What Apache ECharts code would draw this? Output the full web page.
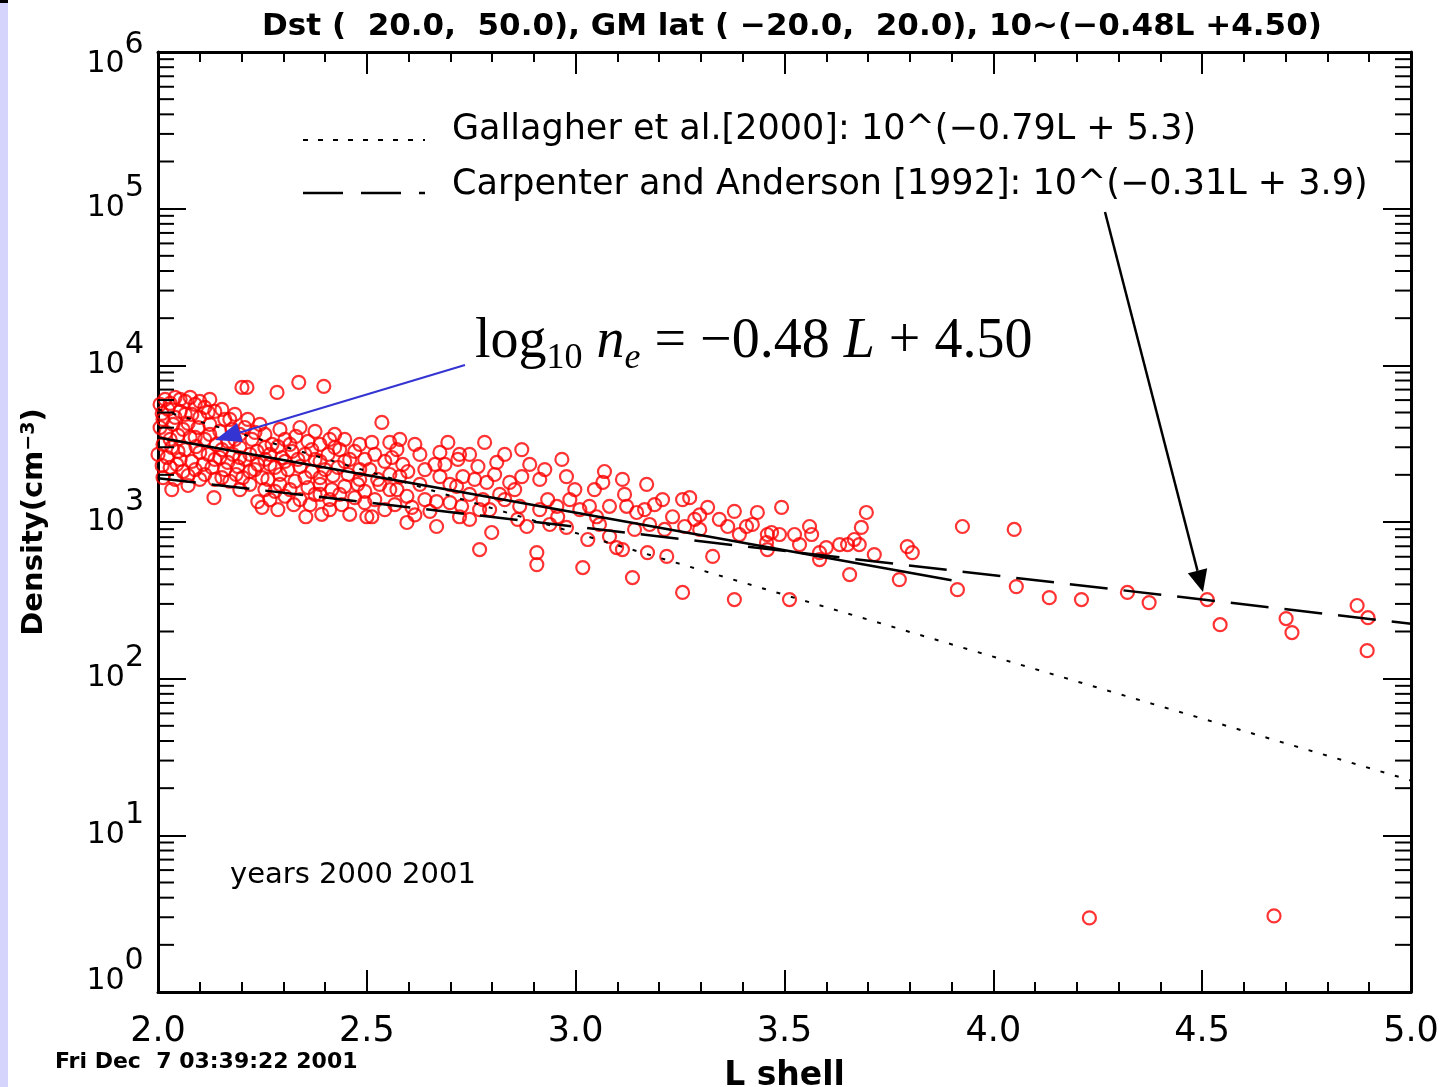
<!DOCTYPE html>
<html><head><meta charset="utf-8">
<script src="https://cdn.jsdelivr.net/npm/echarts@6/dist/echarts.min.js"></script>
<style>html,body{margin:0;padding:0;background:#fff;overflow:hidden}#chart{width:1443px;height:1087px}</style>
</head><body><div id="chart"></div>
<script>
const Lshell = [
 2.017,2.041,2.065,2.089,2.024,2.053,2.081,2.012,2.036,2.072,
 2.096,2.019,2.048,2.077,2.012,2.033,2.065,2.091,2.022,2.053,
 2.081,2.029,2.060,2.089,2.041,2.033,2.072,
 2.112,2.136,2.160,2.124,2.148,2.177,2.208,2.112,2.139,2.167,
 2.196,2.225,2.120,2.148,2.179,2.208,2.237,2.129,2.160,2.191,
 2.220,2.136,2.172,2.203,2.134,2.239,2.249,2.108,2.120,2.232,
 2.201,2.213,2.285,2.337,2.397,2.536,
 2.256,2.273,2.304,2.330,2.359,2.388,2.411,2.268,2.297,2.321,
 2.352,2.376,2.407,2.435,2.459,2.280,2.311,2.340,2.368,2.400,
 2.431,2.455,2.483,2.263,2.292,2.328,2.359,2.388,2.416,2.447,
 2.478,2.304,2.340,2.376,2.411,2.440,2.471,2.249,2.354,2.392,
 2.287,2.325,2.459,2.500,2.512,
 2.519,2.543,2.507,2.555,2.531,2.495,2.512,
 2.572,2.615,2.586,2.579,2.598,2.572,2.596,2.608,2.596,2.667,
 2.694,2.675,2.722,2.663,2.675,2.718,2.730,2.715,2.766,2.782,
 2.811,2.787,2.667,2.699,2.727,2.722,2.746,2.778,2.794,2.799,
 2.770,2.871,2.890,2.871,2.842,2.830,2.866,2.861,2.883,2.907,
 2.907,2.967,2.978,2.933,2.955,2.957,2.978,3.017,3.033,3.029,
 3.069,3.065,3.112,3.081,3.122,3.050,3.081,3.098,3.112,3.170,
 3.165,3.146,3.208,3.232,3.256,3.261,3.172,3.218,3.136,3.256,
 3.273,3.297,3.316,3.328,3.364,3.380,3.409,3.435,3.459,3.457,
 3.459,3.493,3.380,3.469,3.524,3.560,3.565,3.512,3.584,3.600,
 3.584,3.651,3.679,3.696,3.684,3.715,3.656,3.806,3.794,3.775,
 3.926,4.050,3.914,4.055,4.134,4.211,4.321,4.373,4.512,4.543,
 4.701,4.715,4.871,4.897,4.895,4.230,4.672,
 2.005,2.029,2.053,2.077,2.100,2.010,2.041,2.065,2.100,2.005,
 2.060,2.029,2.089,2.000,2.048,2.100,2.010,2.045,2.072,2.012,
 2.100,
 2.124,2.153,2.184,2.172,2.215,2.196,2.244,2.124,2.153,2.184,
 2.220,2.256,2.136,2.167,2.196,2.232,2.268,2.112,2.153,2.187,
 2.220,2.256,2.196,2.239,
 2.292,2.340,2.376,2.423,2.447,2.483,2.287,2.316,2.368,2.423,
 2.471,2.256,2.304,2.335,2.388,2.447,2.495,2.292,2.352,2.388,
 2.419,2.483,2.280,2.316,2.388,2.435,2.495,2.268,2.364,2.411,
 2.519,2.543,2.567,2.526,2.555,2.560,2.579,2.555,
 2.627,2.639,2.627,2.639,2.651,2.615,2.687,2.699,2.746,2.758,
 2.746,2.770,2.806,2.818,2.830,2.854,2.914,2.926,2.914,2.938,
 2.998,3.010,2.986,3.045,3.057,3.117,3.141,3.189,3.177,3.213,
 3.285,3.297,3.344,3.392,3.423,3.488,3.536,3.632,3.667
];
const density = [
 6060,6250,5890,5630,5230,5080,4860,4520,4200,4260,
 4010,3730,3570,3470,3130,2990,2900,3030,2580,2510,
 2440,2230,2100,2160,1870,1610,1710,
 5390,5080,4520,4200,3790,3900,4010,3370,3130,3270,
 2990,3370,2700,2580,2700,2510,2820,2230,2160,2260,
 2100,1870,1820,1920,1430,2330,1920,2330,5010,3730,
 7230,7230,6720,7790,7340,4320,
 3620,3130,3370,3520,3270,3130,3370,2700,2580,2820,
 2700,2510,2700,2900,2510,2230,2160,2260,2100,2160,
 2230,2010,2160,1870,1740,1820,1660,1740,1610,1690,
 1740,1460,1390,1500,1390,1290,1430,1240,1080,1120,
 1200,1290,1120,1080,1080,
 2700,2440,2160,2010,1740,1570,3220,
 2900,3130,2330,1950,2100,1610,1460,1240,993,936,
 3220,2780,2700,2330,1950,2510,1950,1690,2260,3220,
 2400,1790,1350,1330,1260,1080,1040,1390,1200,857,
 667,2900,2330,1950,1790,1390,1260,1040,936,638,
 535,2510,1950,1390,1260,1080,923,512,1260,773,
 2100,1790,1870,1260,1260,1080,808,687,667,1740,
 1200,1150,1390,1080,1390,936,638,603,442,355,
 1430,1110,1240,603,936,1170,936,1150,832,740,
 667,1240,320,857,832,936,832,320,638,687,
 576,718,718,1150,923,620,462,638,697,429,
 936,896,370,387,329,320,355,306,320,221,
 242,197,293,245,151,2.97,3.06,
 5630,5720,6060,6250,5890,4930,4650,4860,4650,4010,
 3900,3370,3470,2700,2820,2780,2290,2330,1980,1920,
 1870,
 6060,5230,4860,4520,4520,3620,4200,3620,2900,3370,
 2700,2990,2510,2400,2580,2160,2330,2010,1920,2010,
 1740,1610,1610,1350,
 3900,4010,3790,3620,3370,3130,3030,3130,2900,2990,
 2820,2510,2440,2510,2440,2440,2510,2010,1920,1920,
 1980,1870,1570,1610,1500,1500,1330,1390,1290,1200,
 1390,1200,1290,1870,1610,2580,3370,3220,
 2700,2160,1740,1390,1170,1110,2330,1740,2700,1870,
 1500,1200,2010,1500,2700,1610,1870,2160,1200,964,
 1610,1200,1390,1610,964,1500,896,1290,964,896,
 1040,896,1040,832,964,832,718,718,773
];
// Model lines (end points)
const gallagherL = [2.0, 5.0];
const gallagherN = [5248, 22.4];
const carpenterL = [2.0, 5.0];
const carpenterN = [1905, 224];
const fitL = [2.0, 3.9];
const fitN = [3467, 425];
// Axis ticks
const xTickLabels = ['2.0','2.5','3.0','3.5','4.0','4.5','5.0'];
const yTickExponents = ['0','1','2','3','4','5','6'];
const minorMantissas = [2,3,4,5,6,7,8,9];

const titleText = 'Dst (  20.0,  50.0), GM lat ( \u221220.0,  20.0), 10~(\u22120.48L +4.50)';
const legendTexts = ['Gallagher et al.[2000]: 10^(\u22120.79L + 5.3)', 'Carpenter and Anderson [1992]: 10^(\u22120.31L + 3.9)'];

const chart = echarts.init(document.getElementById('chart'));
const pts = Lshell.map((l, i) => [l, density[i]]);
const minorVals = [];
for (let e = 0; e < 6; e++) for (const m of minorMantissas) minorVals.push([2.0, m * Math.pow(10, e)]);

const FONT = 'DejaVu Sans';
const axisCommon = {
  axisLine: {show: true, onZero: false, lineStyle: {color: '#000', width: 3}},
  splitLine: {show: false}, minorSplitLine: {show: false}
};
function arrow(x1, y1, x2, y2, color, w, hl, hw) {
  const dx = x2 - x1, dy = y2 - y1, len = Math.hypot(dx, dy);
  const ux = dx / len, uy = dy / len, bx = x2 - ux * hl, by = y2 - uy * hl;
  return [
    {type: 'line', shape: {x1, y1, x2: bx, y2: by}, style: {stroke: color, lineWidth: w}, z: 20},
    {type: 'polygon', shape: {points: [[x2, y2], [bx - uy * hw / 2, by + ux * hw / 2], [bx + uy * hw / 2, by - ux * hw / 2]]}, style: {fill: color}, z: 20}
  ];
}
const lab = {fontFamily: FONT, fontSize: 30, color: '#000'};
function yLabel(v) {
  const e = yTickExponents[Math.round(Math.log10(v))];
  if (e === '6') return '{bt|10}{st|' + e + '}{zt| }';
  if (e === '0') return '{bb|10}{sb|' + e + '}{zb| }';
  return '{b|10}{s|' + e + '}';
}

const option = {
  animation: false,
  backgroundColor: '#fff',
  grid: {left: 158, right: 32, top: 52, bottom: 95, containLabel: false, outerBoundsMode: 'none'},
  xAxis: [
    Object.assign({}, axisCommon, {
      type: 'value', min: 2, max: 5, interval: 0.5, position: 'bottom',
      axisTick: {show: true, inside: true, length: 22, lineStyle: {color: '#000', width: 2}},
      minorTick: {show: true, splitNumber: 5, length: 10, lineStyle: {color: '#000', width: 2}},
      axisLabel: {color: '#000', fontFamily: FONT, fontSize: 35, margin: 22,
        formatter: v => xTickLabels[Math.round((v - 2) / 0.5)]},
      name: 'L shell', nameLocation: 'middle', nameGap: 68,
      nameTextStyle: {color: '#000', fontFamily: FONT, fontSize: 33, fontWeight: 'bold'}
    }),
    Object.assign({}, axisCommon, {
      type: 'value', min: 2, max: 5, interval: 0.5, position: 'top',
      axisTick: {show: true, inside: true, length: 22, lineStyle: {color: '#000', width: 2}},
      minorTick: {show: true, splitNumber: 5, length: 10, lineStyle: {color: '#000', width: 2}},
      axisLabel: {show: false}
    })
  ],
  yAxis: [
    Object.assign({}, axisCommon, {
      type: 'log', logBase: 10, min: 1, max: 1e6, interval: 1, position: 'left',
      axisTick: {show: true, inside: true, length: 28, lineStyle: {color: '#000', width: 2}},
      axisLabel: {color: '#000', fontFamily: FONT, margin: 14, formatter: yLabel,
        rich: {
          b: Object.assign({lineHeight: 70, verticalAlign: 'middle'}, lab),
          s: Object.assign({lineHeight: 30, verticalAlign: 'top'}, lab),
          bt: Object.assign({lineHeight: 30, padding: [19, 0, 0, 0], verticalAlign: 'top'}, lab),
          st: Object.assign({lineHeight: 30, verticalAlign: 'top'}, lab),
          zt: {fontSize: 1, lineHeight: 44, verticalAlign: 'middle'},
          bb: Object.assign({lineHeight: 30, padding: [20, 0, 0, 0], verticalAlign: 'top'}, lab),
          sb: Object.assign({lineHeight: 30, verticalAlign: 'top'}, lab),
          zb: {fontSize: 1, lineHeight: 92, verticalAlign: 'middle'}
        }},
      name: 'Density(cm{s|\u22123})', nameLocation: 'middle', nameGap: 109, nameRotate: 90,
      nameTextStyle: {color: '#000', fontFamily: FONT, fontSize: 29, fontWeight: 'bold',
        rich: {s: {fontFamily: FONT, fontSize: 19, fontWeight: 'bold', color: '#000', verticalAlign: 'top', lineHeight: 19, padding: [0, 0, 14, 0]}}}
    }),
    Object.assign({}, axisCommon, {
      type: 'log', logBase: 10, min: 1, max: 1e6, interval: 1, position: 'right',
      axisTick: {show: true, inside: true, length: 28, lineStyle: {color: '#000', width: 2}},
      axisLabel: {show: false}
    })
  ],
  series: [
    {
      type: 'scatter', xAxisIndex: 0, yAxisIndex: 0, data: pts,
      symbol: 'circle', symbolSize: 13,
      itemStyle: {color: 'rgba(0,0,0,0)', borderColor: '#ff0000', borderWidth: 2.2}, z: 3
    },
    {
      type: 'line', data: gallagherL.map((l, i) => [l, gallagherN[i]]), symbol: 'none',
      lineStyle: {color: '#000', width: 2, type: [4, 11]}, z: 4
    },
    {
      type: 'line', data: carpenterL.map((l, i) => [l, carpenterN[i]]), symbol: 'none',
      lineStyle: {color: '#000', width: 2.5, type: [38, 16]}, z: 4
    },
    {
      type: 'line', data: fitL.map((l, i) => [l, fitN[i]]), symbol: 'none',
      lineStyle: {color: '#000', width: 2.5}, z: 4
    },
    {
      type: 'custom', data: minorVals, clip: false, z: 5,
      renderItem: (params, api) => {
        const v = api.value(1);
        const pL = api.coord([2.0, v]);
        const pR = api.coord([5.0, v]);
        return {type: 'group', children: [
          {type: 'line', shape: {x1: pL[0], y1: pL[1], x2: pL[0] + 16, y2: pL[1]}, style: {stroke: '#000', lineWidth: 2}},
          {type: 'line', shape: {x1: pR[0] - 16, y1: pR[1], x2: pR[0], y2: pR[1]}, style: {stroke: '#000', lineWidth: 2}}
        ]};
      }
    }
  ],
  graphic: [
    {type: 'rect', shape: {x: 0, y: 0, width: 8, height: 1087}, style: {fill: '#d4d4fc'}},
    {type: 'rect', shape: {x: 0, y: 0, width: 8, height: 3}, style: {fill: '#000'}},
    {type: 'text', x: 792, y: 27, style: {text: titleText, font: 'bold 31px "DejaVu Sans"', fill: '#000', align: 'center', verticalAlign: 'middle'}},
    {type: 'line', shape: {x1: 303, y1: 140, x2: 425, y2: 140}, style: {stroke: '#000', lineWidth: 2, lineDash: [5, 10]}},
    {type: 'line', shape: {x1: 303, y1: 193, x2: 425, y2: 193}, style: {stroke: '#000', lineWidth: 2.5, lineDash: [40, 18]}},
    {type: 'text', x: 452, y: 130, style: {text: legendTexts[0], font: '35px "DejaVu Sans"', fill: '#000', verticalAlign: 'middle'}},
    {type: 'text', x: 452, y: 185, style: {text: legendTexts[1], font: '35px "DejaVu Sans"', fill: '#000', verticalAlign: 'middle'}},
    {type: 'text', x: 230, y: 875, style: {text: 'years 2000 2001', font: '29px "DejaVu Sans"', fill: '#000', verticalAlign: 'middle'}},
    {type: 'text', x: 55, y: 1062, style: {text: 'Fri Dec  7 03:39:22 2001', font: 'bold 22px "DejaVu Sans"', fill: '#000', verticalAlign: 'middle'}},
    {type: 'text', x: 475, y: 342, z: 20, style: {
      text: '{r|log}{sub|10}{r| }{i|n}{isub|e}{r| = \u22120.48 }{i|L}{r| + 4.50}',
      verticalAlign: 'middle',
      rich: {
        r: {fontFamily: 'Liberation Serif', fontSize: 56, lineHeight: 70, verticalAlign: 'middle', fill: '#000'},
        i: {fontFamily: 'Liberation Serif', fontStyle: 'italic', fontSize: 56, lineHeight: 70, verticalAlign: 'middle', fill: '#000'},
        sub: {fontFamily: 'Liberation Serif', fontSize: 36, lineHeight: 36, verticalAlign: 'bottom', fill: '#000'},
        isub: {fontFamily: 'Liberation Serif', fontStyle: 'italic', fontSize: 36, lineHeight: 36, verticalAlign: 'bottom', fill: '#000'}
      }}}
  ].concat(arrow(465, 365, 215, 440, '#3434d2', 2, 26, 20))
   .concat(arrow(1105, 212, 1203, 592, '#000', 2.5, 22, 20))
};
chart.setOption(option);
</script></body></html>
